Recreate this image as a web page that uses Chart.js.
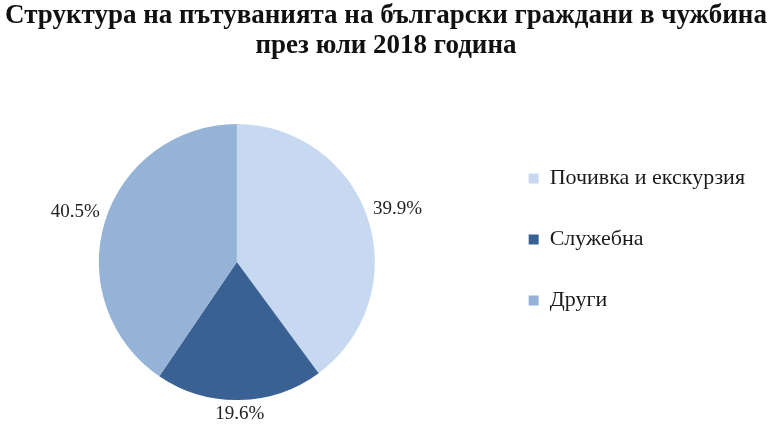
<!DOCTYPE html>
<html>
<head>
<meta charset="utf-8">
<script src="https://cdn.jsdelivr.net/npm/chart.js@4"></script>
<style>
  html, body { margin: 0; padding: 0; background: #fff; overflow: hidden; }
  #wrap { width: 768px; height: 432px; overflow: hidden; }
  /* canvas is a bit wider and pulled left so the pie sits where the original has it */
  #myChart { display: block; margin-left: -16px; }
</style>
</head>
<body>
<div id="wrap"><canvas id="myChart" width="784" height="432"></canvas></div>
<script>
const labels = ['Почивка и екскурзия', 'Служебна', 'Други'];
const values = [39.9, 19.6, 40.5];
const colors = ['#c6d9f0', '#3a6193', '#95b3d7'];

const titleLines = [
    'Структура на пътуванията на български граждани в чужбина',
    'през юли 2018 година'
];

const canvasShift = 16;

// title centred on the visible page
const pageTitle = {
    id: 'pageTitle',
    afterDraw(chart) {
        const ctx = chart.ctx;
        ctx.save();
        ctx.font = 'bold 27px "Liberation Serif", serif';
        ctx.fillStyle = '#111';
        ctx.textAlign = 'center';
        ctx.textBaseline = 'middle';
        titleLines.forEach((line, i) => {
            ctx.fillText(line, (chart.width + canvasShift) / 2 + 2, 16 + i * 30);
        });
        ctx.restore();
    }
};

// percent labels outside each slice
const outsideLabels = {
    id: 'outsideLabels',
    afterDatasetsDraw(chart) {
        const ctx = chart.ctx;
        const meta = chart.getDatasetMeta(0);
        ctx.save();
        ctx.font = '19px "Liberation Serif", serif';
        ctx.fillStyle = '#222';
        ctx.textAlign = 'center';
        ctx.textBaseline = 'middle';
        meta.data.forEach((arc, i) => {
            const mid = (arc.startAngle + arc.endAngle) / 2;
            const txt = values[i].toFixed(1) + '%';
            const hw = ctx.measureText(txt).width / 2;
            const hh = 9;
            const c = Math.cos(mid), s = Math.sin(mid);
            const d = arc.outerRadius + hw * Math.abs(c) + hh * Math.abs(s) + 5;
            ctx.fillText(txt, arc.x + c * d, arc.y + s * d);
        });
        ctx.restore();
    }
};

const data = {
    labels: labels,
    datasets: [{
        data: values,
        backgroundColor: colors,
        borderWidth: 0,
        radius: 138
    }]
};

const config = {
    type: 'pie',
    data: data,
    options: {
        responsive: false,
        animation: false,
        layout: {
            padding: { left: 0, right: 13, top: 92, bottom: 0 }
        },
        plugins: {
            title: { display: false },
            legend: {
                position: 'right',
                align: 'start',
                title: {
                    display: true,
                    text: ' ',
                    font: { size: 12 },
                    padding: { top: 0, bottom: 22 }
                },
                labels: {
                    boxWidth: 10,
                    boxHeight: 10,
                    padding: 39,
                    color: '#1a1a1a',
                    font: { family: '"Liberation Serif", serif', size: 22 }
                }
            },
            tooltip: { enabled: false }
        }
    },
    plugins: [outsideLabels, pageTitle]
};

const myChart = new Chart(
    document.getElementById('myChart'),
    config
);
</script>
</body>
</html>
